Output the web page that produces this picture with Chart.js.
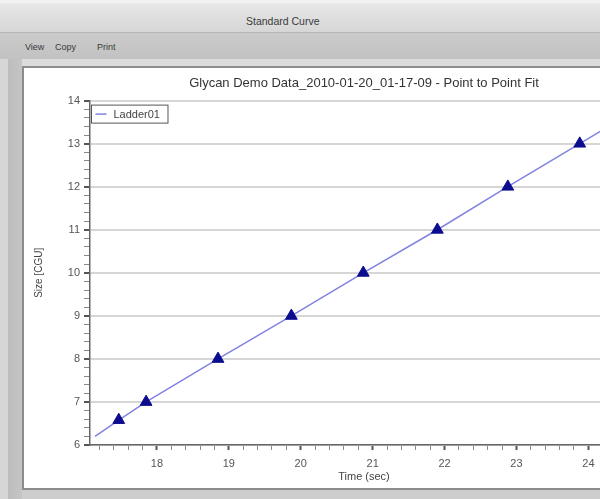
<!DOCTYPE html>
<html>
<head>
<meta charset="utf-8">
<script src="https://cdn.jsdelivr.net/npm/chart.js@4.4.1/dist/chart.umd.min.js"></script>
<style>
  html, body { margin: 0; padding: 0; width: 600px; height: 499px; overflow: hidden; background: #cdcdcd; font-family: "Liberation Sans", Arial, sans-serif; }
  .win { position: absolute; left: 0; top: 0; width: 760px; height: 499px; }
  #titlebar { position: absolute; left: 0; top: 0; width: 760px; height: 32px; box-sizing: border-box; border-top: 3px solid #f2f2f2; background: linear-gradient(#e8e8e8, #d6d6d6); }
  #titlebar span { position: absolute; left: 246px; top: 12px; font-size: 10.5px; color: #3a3a3a; }
  #menubar { position: absolute; left: 0; top: 32px; width: 760px; height: 26px; background: linear-gradient(#cbcbcb, #c2c2c2); border-top: 1px solid #b5b5b5; }
  #menubar span { position: absolute; top: 9px; font-size: 9px; color: #3a3a3a; }
  #gap { position: absolute; left: 0; top: 59px; width: 760px; height: 9px; background: #dcdcdc; }
  #side { position: absolute; left: 0; top: 59px; width: 22px; height: 440px; background: linear-gradient(90deg, #d6d6d6 0, #d6d6d6 8px, #bdbdbd 8px, #c4c4c4 20px); }
  #panel { position: absolute; left: 22px; top: 66px; width: 740px; height: 420px; background: #fff; border: 2px solid #8c8c8c; }
  #chart { position: absolute; left: 24px; top: 69px; }
</style>
</head>
<body>
<div class="win">
  <div id="titlebar"><span>Standard Curve</span></div>
  <div id="menubar">
    <span style="left:25px">View</span>
    <span style="left:55px">Copy</span>
    <span style="left:97px">Print</span>
  </div>
  <div id="gap"></div>
  <div id="side"></div>
  <div id="panel"></div>
  <canvas id="chart" width="640" height="417"></canvas>
</div>
<script>
// Ladder01 peaks: migration time vs. size
const timeSec = [17.47, 17.85, 18.85, 19.87, 20.87, 21.9, 22.88, 23.88];
const sizeCgu = [6.58, 7, 8, 9, 10, 11, 12, 13];

// point-to-point fit, including the extrapolated ends
const fitTime = [17.14, 17.47, 17.85, 18.85, 19.87, 20.87, 21.9, 22.88, 23.88, 24.69];
const fitSize = [6.2, 6.58, 7, 8, 9, 10, 11, 12, 13, 13.81];

const xRange = [17.07, 24.69];
const yRange = [6, 14];
const xTickLabels = [18, 19, 20, 21, 22, 23, 24];
const yTickLabels = [6, 7, 8, 9, 10, 11, 12, 13, 14];

const isMajor = v => Math.abs(v - Math.round(v)) < 1e-6;

// minor ticks every 0.2, labels only on whole numbers
function fifthTicks(scale) {
    const ticks = [];
    for (let i = Math.ceil(scale.min * 5 - 1e-6); i <= Math.floor(scale.max * 5 + 1e-6); i++) {
        ticks.push({ value: i / 5 });
    }
    scale.ticks = ticks;
}

const font = { family: '"Liberation Sans", Arial, sans-serif', size: 11 };

// small boxed legend in the top-left corner of the plot
const boxLegend = {
    id: 'boxLegend',
    afterDraw(chart) {
        const ds = chart.data.datasets[0];
        const ctx = chart.ctx;
        const left = chart.chartArea.left + 1.5;
        const top = chart.chartArea.top + 4.5;
        ctx.save();
        ctx.font = font.size + 'px ' + font.family;
        const w = ctx.measureText(ds.label).width + 30;
        ctx.fillStyle = '#fff';
        ctx.fillRect(left, top, w, 18);
        ctx.strokeStyle = '#555';
        ctx.lineWidth = 1;
        ctx.strokeRect(left, top, w, 18);
        ctx.strokeStyle = ds.borderColor;
        ctx.lineWidth = 1.5;
        ctx.beginPath();
        ctx.moveTo(left + 4, top + 9);
        ctx.lineTo(left + 15, top + 9);
        ctx.stroke();
        ctx.fillStyle = '#444';
        ctx.textBaseline = 'middle';
        ctx.fillText(ds.label, left + 22, top + 9.5);
        ctx.restore();
    }
};

new Chart(document.getElementById('chart'), {
    type: 'scatter',
    data: {
        datasets: [{
            type: 'line',
            label: 'Ladder01',
            data: fitTime.map((t, i) => ({ x: t, y: fitSize[i] })),
            borderColor: '#8282e2',
            borderWidth: 1.5,
            pointRadius: 0,
            fill: false,
            order: 2
        }, {
            label: 'peaks',
            data: timeSec.map((t, i) => ({ x: t, y: sizeCgu[i] })),
            pointStyle: 'triangle',
            pointRadius: 6.8,
            backgroundColor: '#0c0c8e',
            borderColor: '#0c0c8e',
            borderWidth: 1,
            order: 1
        }]
    },
    options: {
        responsive: false,
        animation: false,
        layout: { padding: { right: 26, bottom: 0 } },
        scales: {
            x: {
                type: 'linear',
                min: xRange[0],
                max: xRange[1],
                afterBuildTicks: fifthTicks,
                afterFit: s => { s.height = 41; },
                grid: {
                    drawOnChartArea: false,
                    tickLength: 5,
                    tickColor: c => isMajor(c.tick.value) ? '#555' : '#888',
                    tickWidth: c => isMajor(c.tick.value) ? 2 : 1
                },
                border: { color: '#666', width: 1.5 },
                ticks: {
                    autoSkip: false,
                    maxRotation: 0,
                    padding: 7,
                    color: '#555',
                    font: font,
                    callback: v => xTickLabels.includes(Math.round(v)) && isMajor(v) ? String(Math.round(v)) : ''
                },
                title: { display: true, text: 'Time (sec)', color: '#444', font: font, padding: { top: 0, bottom: 2 } }
            },
            y: {
                min: yRange[0],
                max: yRange[1],
                afterBuildTicks: fifthTicks,
                afterFit: s => { s.width = 66; },
                grid: {
                    color: c => isMajor(c.tick.value) ? '#d6d6d6' : 'rgba(0,0,0,0)',
                    lineWidth: c => isMajor(c.tick.value) ? 2 : 1,
                    tickLength: 6,
                    tickColor: c => isMajor(c.tick.value) ? '#555' : '#888',
                    tickWidth: c => isMajor(c.tick.value) ? 2 : 1
                },
                border: { color: '#666', width: 1.5 },
                ticks: {
                    autoSkip: false,
                    padding: 4,
                    color: '#555',
                    font: font,
                    callback: v => yTickLabels.includes(Math.round(v)) && isMajor(v) ? String(Math.round(v)) : ''
                },
                title: { display: true, text: 'Size [CGU]', color: '#444', font: { family: font.family, size: 10 }, padding: { top: 9, bottom: 0 } }
            }
        },
        plugins: {
            title: {
                display: true,
                fullSize: false,
                text: 'Glycan Demo Data_2010-01-20_01-17-09 - Point to Point Fit',
                color: '#333',
                font: { family: font.family, size: 13, weight: 'normal' },
                padding: { top: 7, bottom: 9 }
            },
            legend: { display: false },
            tooltip: { enabled: false }
        }
    },
    plugins: [boxLegend]
});
</script>
</body>
</html>
